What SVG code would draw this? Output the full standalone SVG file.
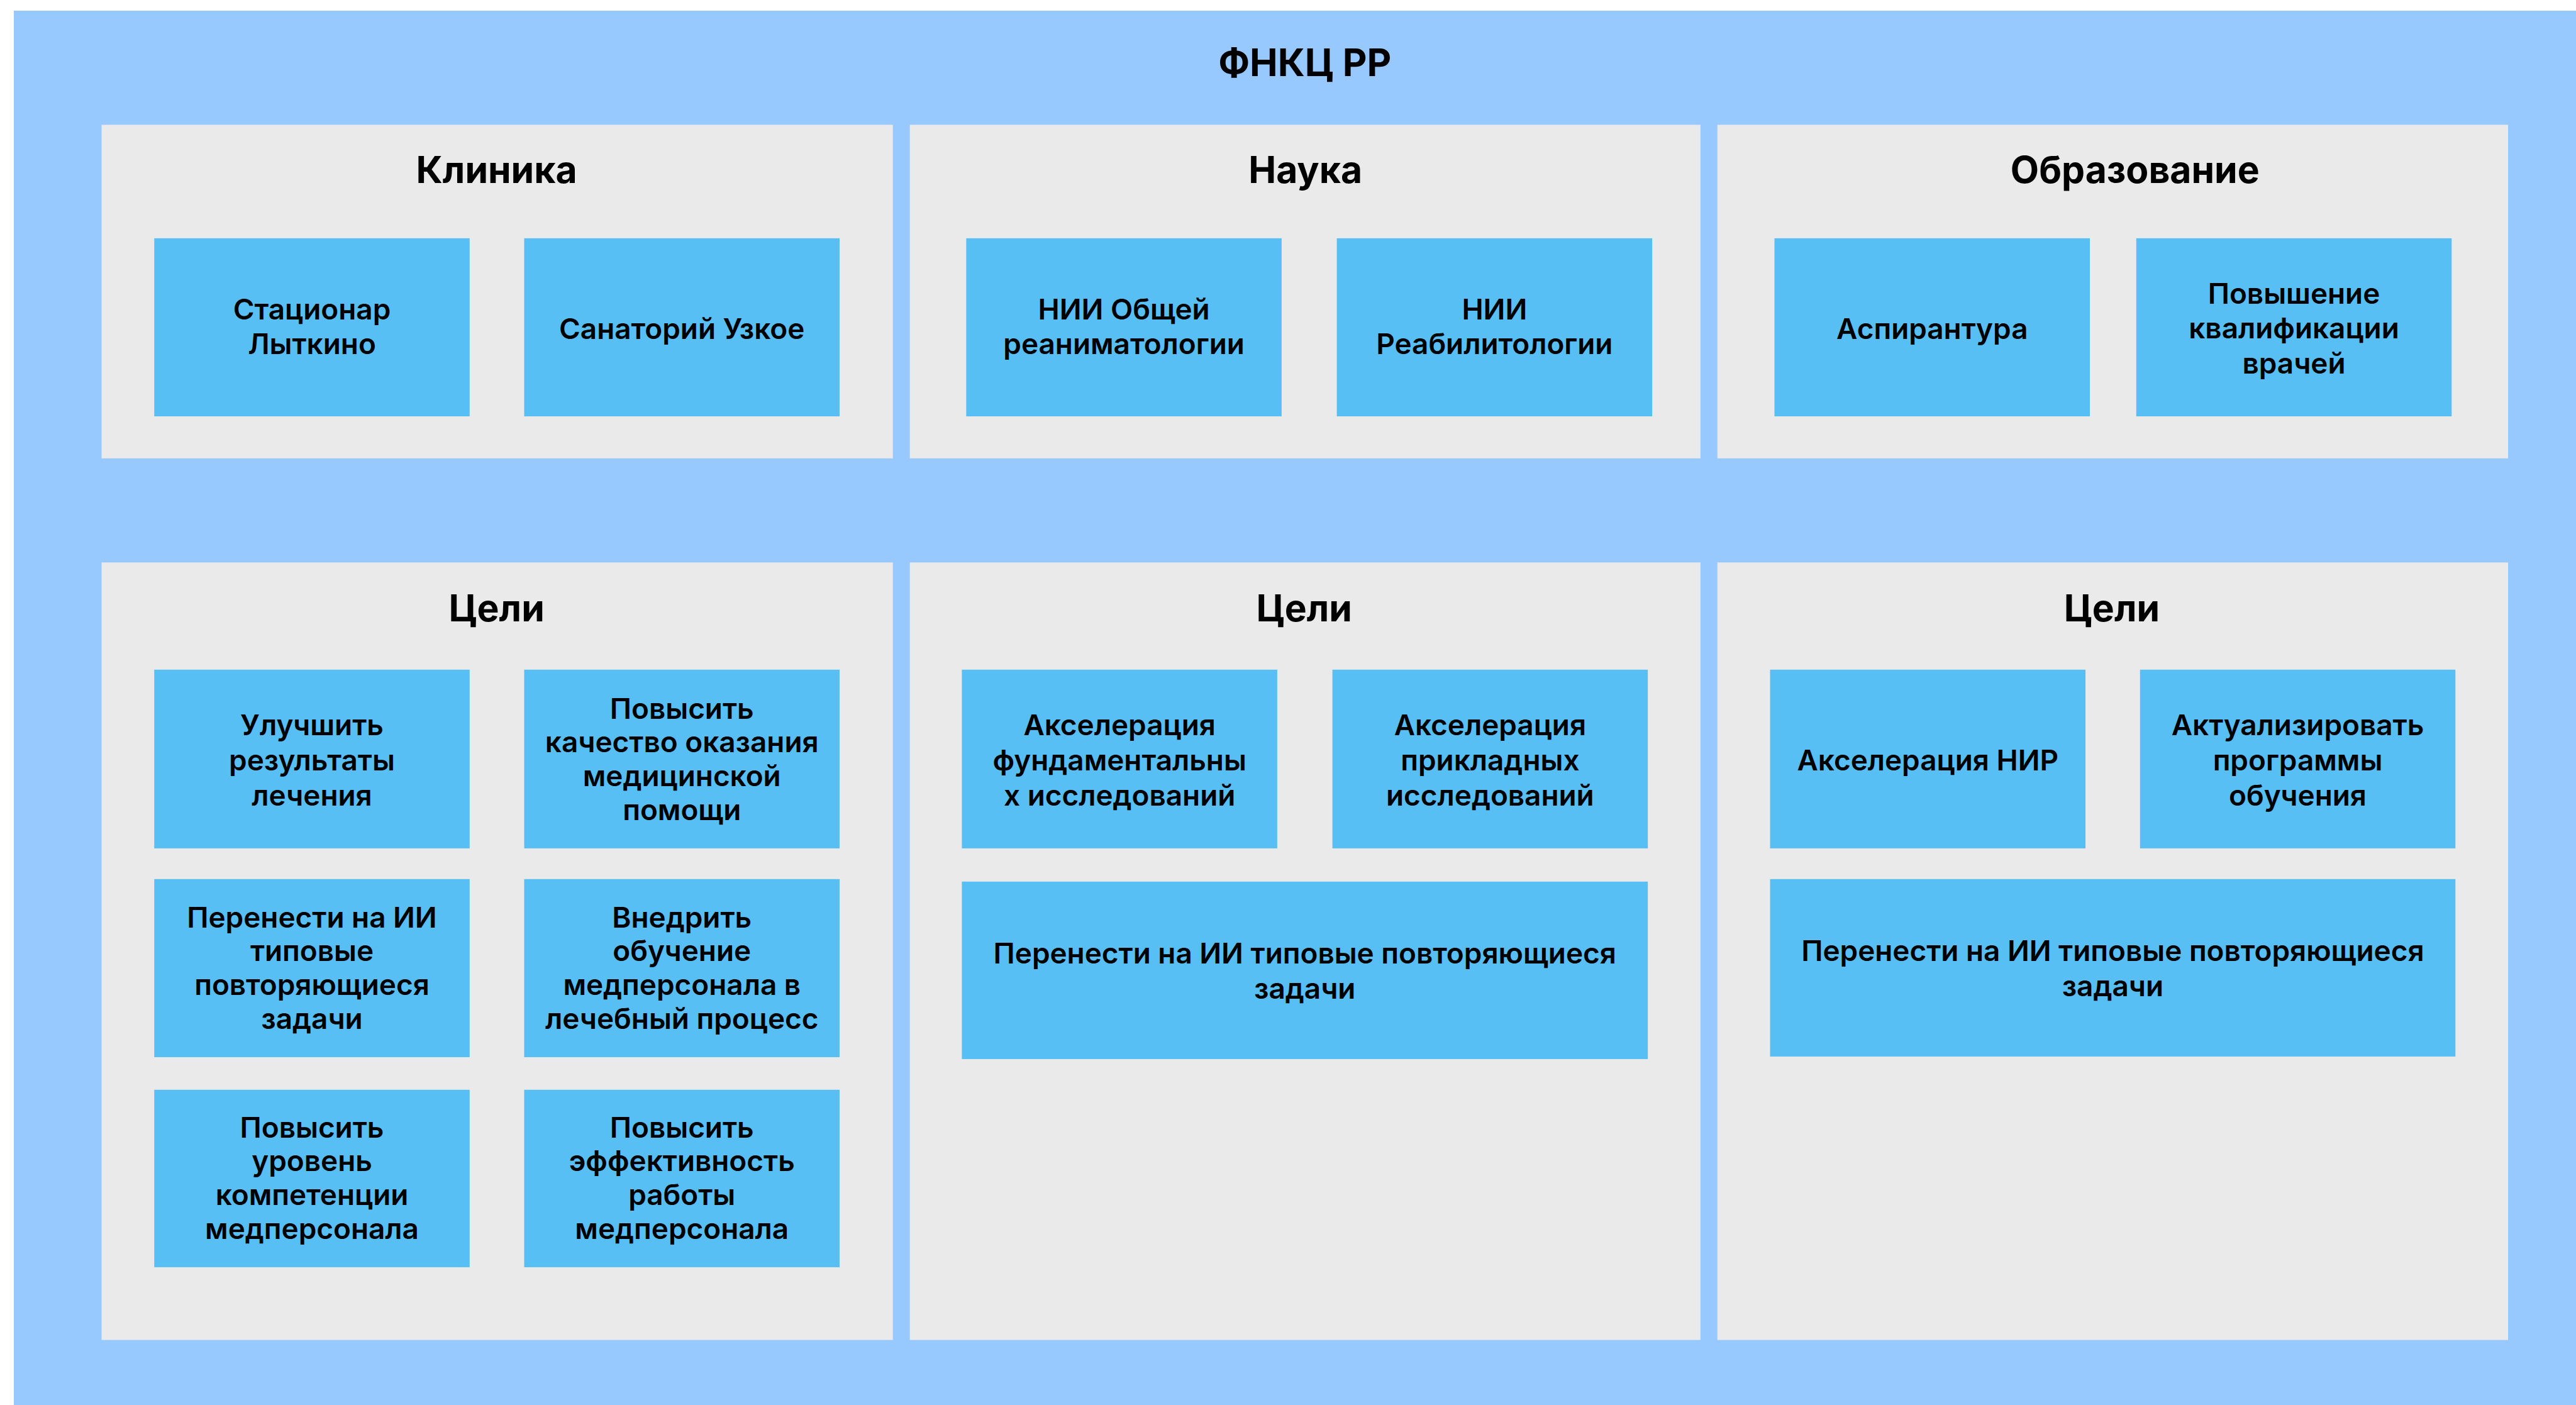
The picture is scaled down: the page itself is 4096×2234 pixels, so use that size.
<svg xmlns="http://www.w3.org/2000/svg" width="4096" height="2234" viewBox="0 0 4096 2234">
<style>
.outer{fill:#98C9FE}
.panel{fill:#EAEAEA}
.node{fill:#57BFF4}
text{font-family:Inter,"Noto Sans","Liberation Sans",sans-serif;fill:#000;text-anchor:middle}
.h0{font-size:60px;font-weight:700}
.h1{font-size:59px;font-weight:700}
.t{font-size:46px;font-weight:600}
</style>
<g transform="scale(0.997)">
<rect class="outer" x="22" y="17" width="4100" height="2230"/>
<text class="h0" x="2081" y="121">ФНКЦ РР</text>

<g id="panel-clinic"><rect class="panel" x="162" y="199" width="1262" height="532"/><text class="h1" x="792" y="292">Клиника</text></g>
<g id="panel-science"><rect class="panel" x="1451" y="199" width="1261" height="532"/><text class="h1" x="2082" y="292">Наука</text></g>
<g id="panel-edu"><rect class="panel" x="2739" y="199" width="1261" height="532"/><text class="h1" x="3405" y="292">Образование</text></g>

<g id="panel-goals1"><rect class="panel" x="162" y="897" width="1262" height="1240"/><text class="h1" x="792" y="991">Цели</text></g>
<g id="panel-goals2"><rect class="panel" x="1451" y="897" width="1261" height="1240"/><text class="h1" x="2080" y="991">Цели</text></g>
<g id="panel-goals3"><rect class="panel" x="2739" y="897" width="1261" height="1240"/><text class="h1" x="3368" y="991">Цели</text></g>

<g id="n-stacionar"><rect class="node" x="246" y="380" width="503" height="284"/><text class="t" x="497.5"><tspan x="497.5" y="510">Стационар</tspan><tspan x="497.5" y="565">Лыткино</tspan></text></g>
<g id="n-sanatorij"><rect class="node" x="836" y="380" width="503" height="284"/><text class="t" x="1087.5" y="541">Санаторий Узкое</text></g>
<g id="n-nii-obshchej"><rect class="node" x="1541" y="380" width="503" height="284"/><text class="t"><tspan x="1792.5" y="510">НИИ Общей</tspan><tspan x="1792.5" y="565">реаниматологии</tspan></text></g>
<g id="n-nii-reab"><rect class="node" x="2132" y="380" width="503" height="284"/><text class="t"><tspan x="2383.5" y="510">НИИ</tspan><tspan x="2383.5" y="565">Реабилитологии</tspan></text></g>
<g id="n-aspirantura"><rect class="node" x="2830" y="380" width="503" height="284"/><text class="t" x="3081.5" y="541">Аспирантура</text></g>
<g id="n-povyshenie"><rect class="node" x="3407" y="380" width="503" height="284"/><text class="t"><tspan x="3658.5" y="484">Повышение</tspan><tspan x="3658.5" y="540">квалификации</tspan><tspan x="3658.5" y="596">врачей</tspan></text></g>

<g id="n-g1-1"><rect class="node" x="246" y="1068" width="503" height="285"/><text class="t"><tspan x="497.5" y="1173">Улучшить</tspan><tspan x="497.5" y="1229">результаты</tspan><tspan x="497.5" y="1285">лечения</tspan></text></g>
<g id="n-g1-2"><rect class="node" x="836" y="1068" width="503" height="285"/><text class="t"><tspan x="1087.5" y="1146">Повысить</tspan><tspan x="1087.5" y="1200">качество оказания</tspan><tspan x="1087.5" y="1254">медицинской</tspan><tspan x="1087.5" y="1308">помощи</tspan></text></g>
<g id="n-g1-3"><rect class="node" x="246" y="1402" width="503" height="284"/><text class="t"><tspan x="497.5" y="1479">Перенести на ИИ</tspan><tspan x="497.5" y="1533">типовые</tspan><tspan x="497.5" y="1587">повторяющиеся</tspan><tspan x="497.5" y="1641">задачи</tspan></text></g>
<g id="n-g1-4"><rect class="node" x="836" y="1402" width="503" height="284"/><text class="t"><tspan x="1087.5" y="1479">Внедрить</tspan><tspan x="1087.5" y="1533">обучение</tspan><tspan x="1087.5" y="1587">медперсонала в</tspan><tspan x="1087.5" y="1641">лечебный процесс</tspan></text></g>
<g id="n-g1-5"><rect class="node" x="246" y="1738" width="503" height="283"/><text class="t"><tspan x="497.5" y="1814">Повысить</tspan><tspan x="497.5" y="1868">уровень</tspan><tspan x="497.5" y="1922">компетенции</tspan><tspan x="497.5" y="1976">медперсонала</tspan></text></g>
<g id="n-g1-6"><rect class="node" x="836" y="1738" width="503" height="283"/><text class="t"><tspan x="1087.5" y="1814">Повысить</tspan><tspan x="1087.5" y="1868">эффективность</tspan><tspan x="1087.5" y="1922">работы</tspan><tspan x="1087.5" y="1976">медперсонала</tspan></text></g>

<g id="n-g2-1"><rect class="node" x="1534" y="1068" width="503" height="285"/><text class="t"><tspan x="1785.5" y="1173">Акселерация</tspan><tspan x="1785.5" y="1229">фундаментальны</tspan><tspan x="1785.5" y="1285">х исследований</tspan></text></g>
<g id="n-g2-2"><rect class="node" x="2125" y="1068" width="503" height="285"/><text class="t"><tspan x="2376.5" y="1173">Акселерация</tspan><tspan x="2376.5" y="1229">прикладных</tspan><tspan x="2376.5" y="1285">исследований</tspan></text></g>
<g id="n-g2-3"><rect class="node" x="1534" y="1406" width="1094" height="283"/><text class="t"><tspan x="2081" y="1537">Перенести на ИИ типовые повторяющиеся</tspan><tspan x="2081" y="1593">задачи</tspan></text></g>

<g id="n-g3-1"><rect class="node" x="2823" y="1068" width="503" height="285"/><text class="t" x="3074.5" y="1229">Акселерация НИР</text></g>
<g id="n-g3-2"><rect class="node" x="3413" y="1068" width="503" height="285"/><text class="t"><tspan x="3664.5" y="1173">Актуализировать</tspan><tspan x="3664.5" y="1229">программы</tspan><tspan x="3664.5" y="1285">обучения</tspan></text></g>
<g id="n-g3-3"><rect class="node" x="2823" y="1402" width="1093" height="283"/><text class="t"><tspan x="3369.5" y="1533">Перенести на ИИ типовые повторяющиеся</tspan><tspan x="3369.5" y="1589">задачи</tspan></text></g>

<g id="connectors"/>
</g>
</svg>
